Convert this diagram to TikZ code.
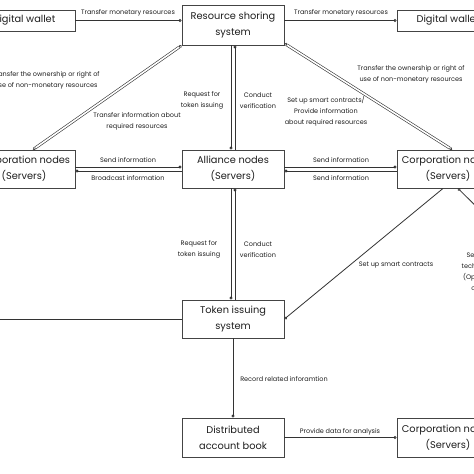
\documentclass[tikz,border=0pt]{standalone}
\usepackage{fontspec}
\setmainfont{Poppins}
\usetikzlibrary{arrows.meta}
\definecolor{linec}{HTML}{333333}
\definecolor{boxc}{HTML}{444444}
\definecolor{txtc}{HTML}{1E1E1E}
\begin{document}
\begin{tikzpicture}[x=1pt,y=-1pt,
 box/.style={draw=boxc, line width=0.9pt, minimum width=102pt, minimum height=38pt, align=center, font=\fontsize{9.8}{16}\selectfont, inner sep=0pt, fill=white, text=txtc},
 lbl/.style={font=\fontsize{6.5}{10.8}\selectfont, align=center, inner sep=0pt, text=txtc},
 conn/.style={draw=linec, line width=0.8pt, -{Circle[open,length=3pt]}},
 plain/.style={draw=linec, line width=0.8pt},
 dconn/.style={draw=linec, line width=0.6pt, double=white, double distance=1.6pt, {Circle[open,length=3pt]}-{Circle[open,length=3pt]}}]
\useasboundingbox (0,0) rectangle (474,474);
\clip (0,0) rectangle (474,474);
\fill[white] (0,0) rectangle (474,474);
% nodes
\node[box, minimum height=21pt] (dwL) at (24,20.5) {Digital wallet};
\node[box, minimum height=40pt] (rss) at (233,25) {Resource shoring\\system};
\node[box, minimum height=21pt] (dwR) at (448,20.5) {Digital wallet};
\node[box] (cnL) at (24,169) {Corporation nodes\\(Servers)};
\node[box] (an) at (233,169) {Alliance nodes\\(Servers)};
\node[box] (cnR) at (448,169) {Corporation nodes\\(Servers)};
\node[box] (tis) at (233,319) {Token issuing\\system};
\node[box, minimum height=39pt] (dab) at (233,437.5) {Distributed\\account book};
\node[box, minimum height=39pt] (cnB) at (448,437.5) {Corporation nodes\\(Servers)};
\coordinate (offL) at (-10,319);
\coordinate (offR) at (490,220);
% connectors
\draw[conn] (dwL.east) -- (dwL.east -| rss.west);
\draw[conn] (rss.east |- dwR.west) -- (dwR.west);
\draw[dconn] (rss.south west) -- ([xshift=9pt]cnL.north);
\draw[dconn] ([yshift=2pt]rss.south east) -- ([xshift=4pt]cnR.north);
\draw[conn] ([xshift=-2pt]rss.south) -- ([xshift=-2pt]an.north);
\draw[conn] ([xshift=2pt]an.north) -- ([xshift=2pt]rss.south);
\draw[conn] ([yshift=2pt]cnL.east) -- ([yshift=2pt]an.west);
\draw[conn] ([yshift=-2pt]an.west) -- ([yshift=-2pt]cnL.east);
\draw[conn] ([yshift=2pt]an.east) -- ([yshift=2pt]cnR.west);
\draw[conn] ([yshift=-2pt]cnR.west) -- ([yshift=-2pt]an.east);
\draw[conn] ([xshift=-2pt]an.south) -- ([xshift=-2pt]tis.north);
\draw[conn] ([xshift=2pt]tis.north) -- ([xshift=2pt]an.south);
\draw[conn] ([xshift=-5pt]cnR.south) -- (tis.east);
\draw[conn] (offR) -- ([xshift=10pt]cnR.south);
\draw[plain] (tis.west) -- (offL);
\draw[conn] (tis.south) -- (dab.north);
\draw[conn] (dab.east) -- (cnB.west);
% labels
\node[lbl] (l1) at (128,13) {Transfer monetary resources};
\node[lbl] (l2) at (341,13) {Transfer monetary resources};
\node[lbl] (l3) at (46,80.5) {Transfer the ownership or right of\\use of non-monetary resources};
\node[lbl] (l4) at (411,74) {Transfer the ownership or right of\\use of non-monetary resources};
\node[lbl] (l5) at (137,121.5) {Transfer information about\\required resources};
\node[lbl] (l6) at (326,111) {Set up smart contracts/\\Provide information\\about required resources};
\node[lbl] (l7) at (202,100.5) {Request for\\token issuing};
\node[lbl] (l8) at (258,100.5) {Conduct\\verification};
\node[lbl] (l9) at (128,160) {Send information};
\node[lbl] (l10) at (128,178) {Broadcast information};
\node[lbl] (l11) at (341,160) {Send information};
\node[lbl] (l12) at (341,178) {Send information};
\node[lbl] (l13) at (199,249.5) {Request for\\token issuing};
\node[lbl] (l14) at (258,249.5) {Conduct\\verification};
\node[lbl] (l15) at (396,265) {Set up smart contracts};
\node[lbl] (l16) at (480,271.5) {Services\\technology\\(Optional)\\costs};
\node[lbl] (l17) at (284,379) {Record related inforamtion};
\node[lbl] (l18) at (340,431.5) {Provide data for analysis};
\end{tikzpicture}
\end{document}
